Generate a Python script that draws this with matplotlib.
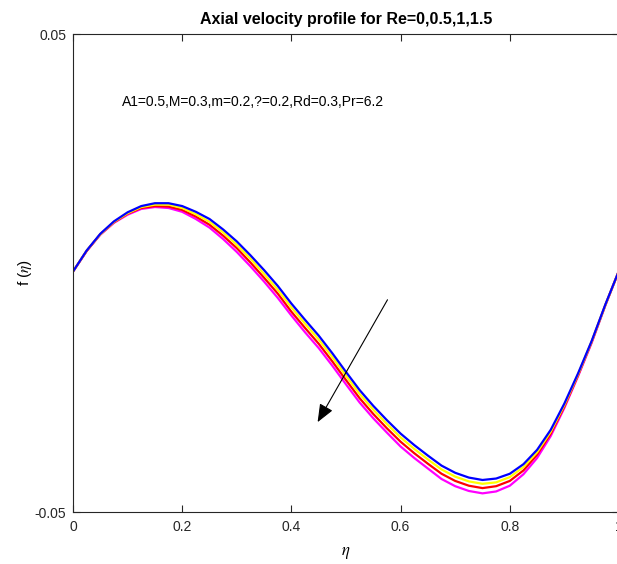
import numpy as np
import matplotlib
matplotlib.use("Agg")
import matplotlib.pyplot as plt

plt.rcParams['font.family'] = ['Liberation Sans', 'DejaVu Sans']
plt.rcParams['mathtext.fontset'] = 'stix'
plt.rcParams['axes.unicode_minus'] = False

# eta grid (step 0.025)
eta = np.array([0.000, 0.025, 0.050, 0.075, 0.100, 0.125, 0.150, 0.175, 0.200, 0.225,
                0.250, 0.275, 0.300, 0.325, 0.350, 0.375, 0.400, 0.425, 0.450, 0.475,
                0.500, 0.525, 0.550, 0.575, 0.600, 0.625, 0.650, 0.675, 0.700, 0.725,
                0.750, 0.775, 0.800, 0.825, 0.850, 0.875, 0.900, 0.925, 0.950, 0.975,
                1.000])

# f(eta) for each Re, in units of 1e-4
f_blue = [3, 47, 82, 108, 127, 140, 146, 146, 140, 128, 113, 91, 66, 37, 6, -27, -64, -98,
          -131, -168, -207, -245, -278, -308, -336, -360, -382, -403, -418, -428, -433, -430,
          -420, -400, -370, -328, -273, -210, -142, -66, 5]
f_yellow = [3, 47, 81, 107, 125, 138, 143, 143, 136, 123, 107, 85, 59, 30, -2, -35, -72, -106,
            -139, -176, -215, -253, -286, -316, -344, -368, -390, -411, -426, -436, -441, -438,
            -427, -406, -375, -332, -276, -212, -143, -67, 5]
f_red = [3, 46, 81, 106, 124, 136, 140, 139, 132, 118, 101, 78, 52, 22, -10, -43, -81, -115,
         -148, -185, -224, -262, -295, -325, -353, -377, -399, -420, -435, -445, -450, -446,
         -435, -413, -380, -336, -279, -214, -144, -67, 5]
f_magenta = [3, 46, 80, 105, 122, 134, 138, 136, 128, 113, 95, 71, 44, 14, -18, -52, -89, -124,
             -157, -194, -233, -271, -304, -334, -363, -387, -409, -431, -446, -456, -461, -457,
             -445, -421, -387, -341, -282, -216, -146, -68, 5]

xticks = [0, 0.2, 0.4, 0.6, 0.8, 1]
xticklabels = ['0', '0.2', '0.4', '0.6', '0.8', '1']
yticks = [-0.05, 0.05]
yticklabels = ['-0.05', '0.05']

fig = plt.figure(figsize=(6.17, 5.64), dpi=100)
ax = fig.add_axes([73 / 617, 52 / 564, 546 / 617, 478 / 564])

# drawn in this order so blue ends on top
series = [(f_magenta, '#FF00FF'), (f_red, '#FF0000'), (f_yellow, '#FFFF00'), (f_blue, '#0000FF')]
for vals, col in series:
    ax.plot(eta, np.array(vals) * 1e-4, color=col, lw=1.6)

ax.set_xlim(0, 1)
ax.set_ylim(-0.05, 0.05)
ax.set_xticks(xticks)
ax.set_xticklabels(xticklabels)
ax.set_yticks(yticks)
ax.set_yticklabels(yticklabels)
ax.tick_params(direction='in', length=5, width=0.8, colors='#262626', labelsize=10,
               top=True, right=True)
ax.tick_params(axis='x', pad=6)
ax.tick_params(axis='y', pad=5)
for sp in ax.spines.values():
    sp.set_color('#262626')
    sp.set_linewidth(0.8)

ax.set_xlabel(r'$\eta$', fontsize=12, labelpad=8)
ax.set_ylabel(r'f ($\eta$)', fontsize=11, labelpad=0)
ax.set_title('Axial velocity profile for Re=0,0.5,1,1.5', fontsize=11.5, fontweight='bold', pad=7)

ax.text(0.09, 0.035, 'A1=0.5,M=0.3,m=0.2,?=0.2,Rd=0.3,Pr=6.2', fontsize=10)

ax.annotate('', xy=(0.448, -0.0312), xytext=(0.576, -0.0056),
            arrowprops=dict(arrowstyle='-|>,head_length=1.1,head_width=0.45',
                            color='black', lw=0.8, shrinkA=0, shrinkB=0))

fig.savefig('out.png', dpi=100)
